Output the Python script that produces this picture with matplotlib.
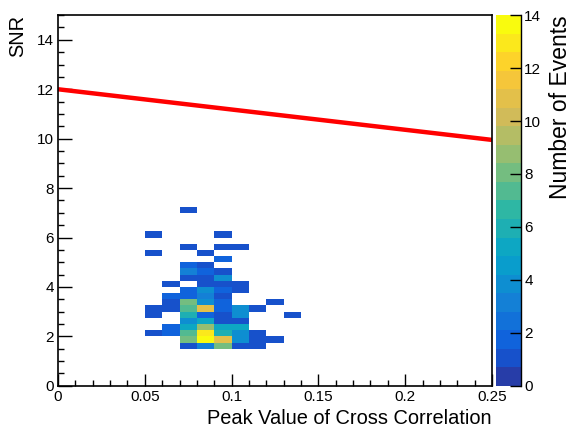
import numpy as np
import matplotlib
matplotlib.use('Agg')
import matplotlib.pyplot as plt
from matplotlib.colors import ListedColormap, BoundaryNorm, LinearSegmentedColormap
from matplotlib.ticker import MultipleLocator

plt.rcParams['font.family'] = ['Liberation Sans', 'DejaVu Sans']

# bin edges of the 2D histogram
x_edges = [0.05, 0.06, 0.07, 0.08, 0.09, 0.10, 0.11, 0.12, 0.13, 0.14]
y_edges = np.arange(1.5, 7.26, 0.25)

# counts per SNR row (bottom row first), columns follow x_edges
counts = [
    [0, 0, 1, 3, 8, 1, 1, 0, 0],    # 1.50
    [0, 0, 8, 14, 11, 4, 1, 1, 0],  # 1.75
    [1, 2, 7, 13, 6, 4, 1, 0, 0],   # 2.00
    [0, 2, 5, 9, 5, 5, 0, 0, 0],    # 2.25
    [0, 0, 4, 5, 1, 1, 0, 0, 0],    # 2.50
    [1, 0, 6, 2, 1, 4, 0, 0, 1],    # 2.75
    [1, 1, 7, 11, 2, 4, 1, 0, 0],   # 3.00
    [0, 1, 8, 4, 2, 0, 0, 1, 0],    # 3.25
    [0, 2, 2, 3, 1, 0, 0, 0, 0],    # 3.50
    [0, 0, 2, 4, 2, 1, 0, 0, 0],    # 3.75
    [0, 1, 0, 1, 1, 1, 0, 0, 0],    # 4.00
    [0, 0, 1, 1, 4, 0, 0, 0, 0],    # 4.25
    [0, 0, 3, 2, 1, 0, 0, 0, 0],    # 4.50
    [0, 0, 2, 1, 0, 0, 0, 0, 0],    # 4.75
    [0, 0, 0, 0, 2, 0, 0, 0, 0],    # 5.00
    [1, 0, 0, 1, 0, 0, 0, 0, 0],    # 5.25
    [0, 0, 1, 0, 1, 1, 0, 0, 0],    # 5.50
    [0, 0, 0, 0, 0, 0, 0, 0, 0],    # 5.75
    [1, 0, 0, 0, 1, 0, 0, 0, 0],    # 6.00
    [0, 0, 0, 0, 0, 0, 0, 0, 0],    # 6.25
    [0, 0, 0, 0, 0, 0, 0, 0, 0],    # 6.50
    [0, 0, 0, 0, 0, 0, 0, 0, 0],    # 6.75
    [0, 0, 1, 0, 0, 0, 0, 0, 0],    # 7.00
]

# red cut line
cut_x = [0.0, 0.25]
cut_y = [12.0, 9.95]

# ROOT kBird palette
stops = [0.0, 0.125, 0.25, 0.375, 0.5, 0.625, 0.75, 0.875, 1.0]
red = [0.2082, 0.0592, 0.0780, 0.0232, 0.1802, 0.5301, 0.8186, 0.9956, 0.9764]
green = [0.1664, 0.3599, 0.5041, 0.6419, 0.7178, 0.7492, 0.7328, 0.7862, 0.9832]
blue = [0.5293, 0.8684, 0.8385, 0.7914, 0.6425, 0.4662, 0.3499, 0.1968, 0.0539]
bird = LinearSegmentedColormap.from_list(
    'bird', list(zip(stops, zip(red, green, blue))), N=255)

ncont = 20
zmax = 14
level_cols = [bird(int((i + 0.99) * 255 / ncont) / 254.0) for i in range(ncont)]
cmap = ListedColormap(level_cols)
norm = BoundaryNorm(np.linspace(0, zmax, ncont + 1), ncont, clip=True)

fig = plt.figure(figsize=(5.71, 4.32), dpi=100)
ax = fig.add_axes([0.1016, 0.107, 0.760, 0.858])
cax = fig.add_axes([0.8686, 0.107, 0.0445, 0.858])

z = np.ma.masked_equal(np.array(counts, dtype=float), 0)
ax.pcolormesh(x_edges, y_edges, z, cmap=cmap, norm=norm)
ax.plot(cut_x, cut_y, color='#ff0000', lw=3.2, solid_capstyle='butt')

ax.set_xlim(0, 0.25)
ax.set_ylim(0, 15)
ax.xaxis.set_minor_locator(MultipleLocator(0.01))
ax.yaxis.set_major_locator(MultipleLocator(2))
ax.yaxis.set_minor_locator(MultipleLocator(0.5))
ax.set_xticks([0, 0.05, 0.1, 0.15, 0.2, 0.25])
ax.set_xticklabels(['0', '0.05', '0.1', '0.15', '0.2', '0.25'])
ax.tick_params(which='both', direction='in', labelsize=11, width=1.0,
               top=False, right=False)
ax.tick_params(axis='x', which='major', length=9, pad=3)
ax.tick_params(axis='x', which='minor', length=4.5)
ax.tick_params(axis='y', which='major', length=10, pad=3)
ax.tick_params(axis='y', which='minor', length=4.5)
for s in ax.spines.values():
    s.set_linewidth(1.2)

ax.set_xlabel('Peak Value of Cross Correlation', fontsize=14.4, ha='right',
              x=1.0, labelpad=4)
ax.set_ylabel('SNR', fontsize=14.4, ha='right', y=1.0, labelpad=7)

# colour scale
cax.pcolormesh([0, 1], np.linspace(0, zmax, ncont + 1),
               np.linspace(0, zmax, ncont + 1)[:-1].reshape(-1, 1) + 0.35,
               cmap=cmap, norm=norm)
cax.set_xlim(0, 1)
cax.set_ylim(0, zmax)
cax.set_xticks([])
cax.yaxis.tick_right()
cax.yaxis.set_label_position('right')
cax.yaxis.set_major_locator(MultipleLocator(2))
cax.tick_params(axis='y', direction='in', length=8, width=1.0,
                labelsize=11, pad=2)
for k in ['left', 'top', 'bottom']:
    cax.spines[k].set_visible(False)
cax.spines['right'].set_linewidth(1.0)
cax.set_ylabel('Number of Events', fontsize=16.5, ha='right', y=1.0,
               labelpad=6)

fig.savefig('out.png', dpi=100)
